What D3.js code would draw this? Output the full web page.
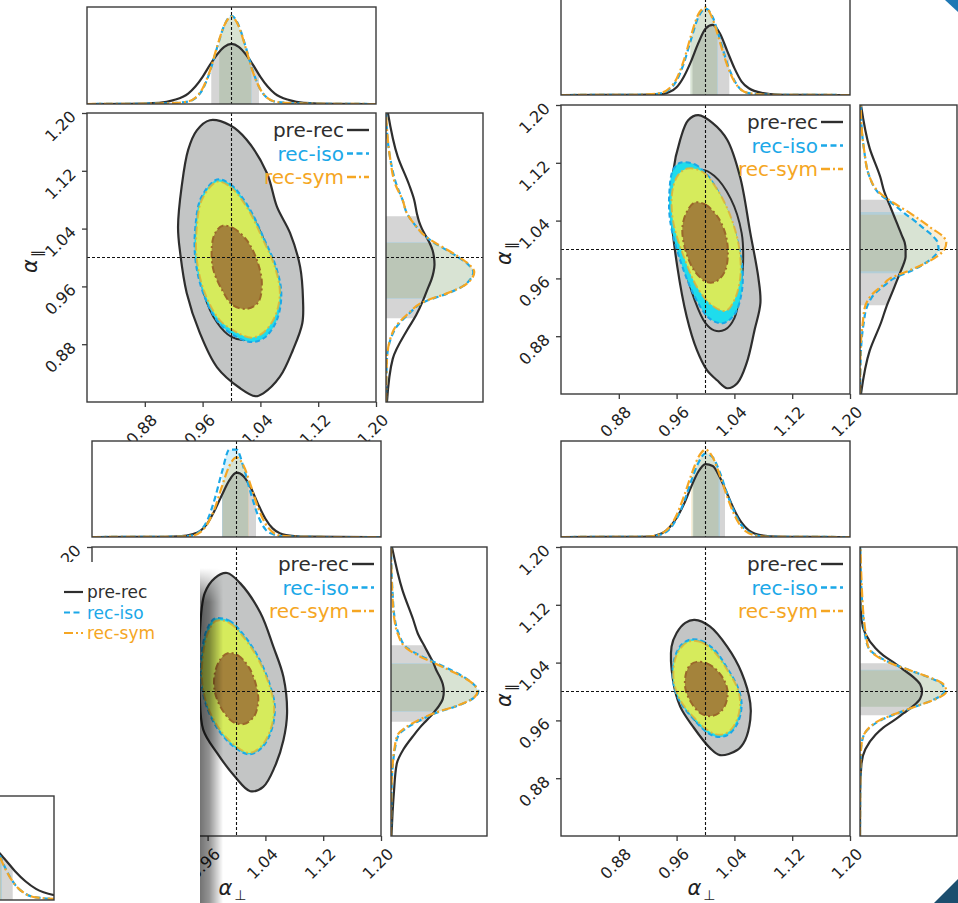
<!DOCTYPE html>
<html>
<head>
<meta charset="utf-8">
<script src="https://cdn.jsdelivr.net/npm/d3@7"></script>
<style>
  body { margin: 0; background: #fff; overflow: hidden; }
  svg { display: block; font-family: "DejaVu Sans", sans-serif; }
</style>
</head>
<body>
<svg id="chart" width="958" height="903"></svg>
<script>
// ---- shared axis values ----
const alphaGrid = [0.80, 0.86, 0.90, 0.92, 0.94, 0.95, 0.96, 0.97, 0.98, 0.99, 1.00, 1.01, 1.02, 1.03, 1.04, 1.05, 1.06, 1.08, 1.10, 1.14, 1.20];
const axisTicks = [0.88, 0.96, 1.04, 1.12, 1.20];
const alphaRange = [0.80, 1.20];
const fiducial = 1.00;
const seriesNames = ["pre-rec", "rec-iso", "rec-sym"];

// ---- panel 1 (top left) ----
const p1TopPre = [0, 0.002, 0.012, 0.04, 0.107, 0.18, 0.28, 0.40, 0.51, 0.59, 0.62, 0.59, 0.51, 0.40, 0.28, 0.18, 0.107, 0.04, 0.012, 0.002, 0];
const p1TopIso = [0, 0.002, 0.005, 0.01, 0.025, 0.06, 0.15, 0.33, 0.58, 0.81, 0.91, 0.81, 0.58, 0.33, 0.15, 0.06, 0.025, 0.01, 0.005, 0.002, 0];
const p1TopSym = [0, 0.002, 0.005, 0.01, 0.026, 0.065, 0.16, 0.34, 0.59, 0.81, 0.90, 0.80, 0.57, 0.32, 0.15, 0.06, 0.025, 0.01, 0.005, 0.002, 0];
const p1RightPre = [0.01, 0.07, 0.22, 0.31, 0.38, 0.41, 0.44, 0.47, 0.49, 0.50, 0.495, 0.48, 0.45, 0.41, 0.37, 0.34, 0.32, 0.29, 0.24, 0.12, 0.02];
const p1RightIso = [0, 0.01, 0.09, 0.22, 0.42, 0.63, 0.79, 0.87, 0.90, 0.85, 0.75, 0.63, 0.50, 0.40, 0.33, 0.27, 0.22, 0.17, 0.11, 0.04, 0];
const p1RightSym = [0, 0.01, 0.08, 0.21, 0.41, 0.62, 0.79, 0.88, 0.91, 0.86, 0.76, 0.64, 0.51, 0.40, 0.33, 0.27, 0.22, 0.17, 0.10, 0.04, 0];
const p1TopBands = [[0.972, 1.038], [0.983, 1.028], [0.983, 1.027]];
const p1RightBands = [[0.916, 1.057], [0.943, 1.021], [0.944, 1.020]];
const p1Pre95 = [[0.970,1.190],[0.998,1.183],[1.021,1.163],[1.049,1.117],[1.063,1.070],[1.081,1.034],[1.095,0.987],[1.099,0.941],[1.098,0.909],[1.085,0.872],[1.067,0.835],[1.044,0.812],[1.033,0.808],[1.012,0.819],[0.980,0.848],[0.956,0.896],[0.938,0.951],[0.929,1.006],[0.926,1.042],[0.931,1.098],[0.940,1.149],[0.952,1.176]];
const p1Pre68 = [[0.985,1.098],[1.005,1.090],[1.030,1.055],[1.050,1.010],[1.060,0.965],[1.055,0.925],[1.040,0.897],[1.020,0.886],[1.000,0.890],[0.980,0.910],[0.962,0.950],[0.955,1.000],[0.957,1.050],[0.968,1.083]];
const p1Iso95 = [[0.980,1.108],[0.999,1.101],[1.023,1.071],[1.046,1.024],[1.062,0.986],[1.069,0.950],[1.063,0.914],[1.047,0.890],[1.029,0.883],[1.007,0.890],[0.982,0.910],[0.961,0.950],[0.950,0.997],[0.950,1.043],[0.958,1.083]];
const p1Sym95 = [[0.980,1.105],[0.998,1.098],[1.021,1.070],[1.044,1.024],[1.060,0.987],[1.067,0.951],[1.060,0.918],[1.044,0.896],[1.028,0.889],[1.008,0.896],[0.984,0.913],[0.963,0.951],[0.952,0.997],[0.952,1.042],[0.959,1.080]];
const p1Rec68 = [[0.988,1.044],[1.002,1.041],[1.021,1.024],[1.035,0.997],[1.042,0.965],[1.037,0.938],[1.021,0.929],[1.002,0.934],[0.987,0.955],[0.974,0.987],[0.974,1.024],[0.980,1.038]];

// ---- panel 2 (top right) ----
const p2TopPre = [0, 0.001, 0.002, 0.005, 0.01, 0.03, 0.08, 0.19, 0.35, 0.54, 0.69, 0.73, 0.64, 0.46, 0.28, 0.14, 0.07, 0.02, 0.005, 0.001, 0];
const p2TopIso = [0, 0.001, 0.002, 0.005, 0.02, 0.06, 0.15, 0.33, 0.58, 0.81, 0.90, 0.81, 0.58, 0.33, 0.15, 0.05, 0.02, 0.005, 0.002, 0.001, 0];
const p2TopSym = [0, 0.001, 0.002, 0.006, 0.025, 0.07, 0.17, 0.36, 0.62, 0.84, 0.91, 0.79, 0.55, 0.31, 0.14, 0.05, 0.02, 0.005, 0.002, 0.001, 0];
const p2RightPre = [0.01, 0.10, 0.22, 0.27, 0.33, 0.36, 0.39, 0.42, 0.45, 0.47, 0.47, 0.46, 0.43, 0.40, 0.37, 0.34, 0.31, 0.25, 0.21, 0.10, 0.01];
const p2RightIso = [0, 0.01, 0.04, 0.07, 0.16, 0.25, 0.35, 0.52, 0.66, 0.76, 0.81, 0.80, 0.74, 0.65, 0.56, 0.46, 0.37, 0.18, 0.10, 0.04, 0.005];
const p2RightSym = [0, 0.005, 0.03, 0.05, 0.14, 0.23, 0.31, 0.49, 0.66, 0.79, 0.87, 0.89, 0.84, 0.73, 0.63, 0.52, 0.40, 0.19, 0.10, 0.04, 0.005];
const p2TopBands = [[0.982, 1.033], [0.979, 1.017], [0.979, 1.016]];
const p2RightBands = [[0.923, 1.069], [0.967, 1.052], [0.970, 1.048]];
const p2Pre95 = [[0.990,1.186],[1.010,1.175],[1.030,1.152],[1.048,1.100],[1.062,1.023],[1.073,0.962],[1.076,0.926],[1.068,0.889],[1.057,0.843],[1.044,0.815],[1.030,0.808],[1.016,0.819],[1.002,0.833],[0.988,0.861],[0.974,0.907],[0.961,0.976],[0.953,1.045],[0.955,1.106],[0.965,1.152],[0.976,1.179]];
const p2Pre68 = [[0.995,1.110],[1.012,1.102],[1.035,1.070],[1.050,1.023],[1.052,0.980],[1.048,0.944],[1.040,0.905],[1.027,0.889],[1.012,0.888],[1.000,0.898],[0.985,0.930],[0.972,0.976],[0.968,1.030],[0.975,1.080]];
const p2Iso95 = [[0.965,1.120],[0.985,1.118],[1.005,1.100],[1.025,1.065],[1.042,1.020],[1.051,0.976],[1.050,0.940],[1.040,0.910],[1.024,0.898],[1.005,0.905],[0.985,0.935],[0.965,0.985],[0.951,1.040],[0.950,1.080],[0.955,1.110]];
const p2Sym95 = [[0.975,1.112],[0.995,1.108],[1.015,1.085],[1.035,1.045],[1.047,1.000],[1.048,0.960],[1.040,0.930],[1.028,0.915],[1.010,0.922],[0.990,0.945],[0.970,0.990],[0.955,1.040],[0.954,1.080],[0.962,1.103]];
const p2Rec68 = [[0.985,1.065],[1.000,1.062],[1.017,1.045],[1.028,1.020],[1.031,0.995],[1.027,0.970],[1.015,0.956],[1.002,0.955],[0.985,0.970],[0.972,1.000],[0.968,1.030],[0.974,1.052]];

// ---- panel 3 (bottom left) ----
const p3TopPre = [0, 0.001, 0.002, 0.006, 0.03, 0.064, 0.145, 0.28, 0.44, 0.59, 0.67, 0.63, 0.51, 0.34, 0.19, 0.09, 0.04, 0.01, 0.003, 0.001, 0];
const p3TopIso = [0, 0.001, 0.002, 0.005, 0.018, 0.065, 0.18, 0.40, 0.68, 0.91, 0.91, 0.72, 0.45, 0.22, 0.08, 0.03, 0.01, 0.003, 0.001, 0, 0];
const p3TopSym = [0, 0.001, 0.002, 0.004, 0.014, 0.05, 0.14, 0.30, 0.53, 0.74, 0.83, 0.74, 0.53, 0.30, 0.14, 0.05, 0.015, 0.004, 0.001, 0, 0];
const p3RightPre = [0.005, 0.03, 0.06, 0.13, 0.24, 0.30, 0.37, 0.44, 0.50, 0.54, 0.55, 0.54, 0.51, 0.47, 0.44, 0.40, 0.36, 0.28, 0.23, 0.12, 0.01];
const p3RightIso = [0, 0.005, 0.02, 0.04, 0.08, 0.17, 0.30, 0.46, 0.69, 0.85, 0.91, 0.86, 0.76, 0.62, 0.46, 0.30, 0.17, 0.08, 0.04, 0.015, 0];
const p3RightSym = [0, 0.004, 0.018, 0.035, 0.07, 0.15, 0.28, 0.45, 0.68, 0.85, 0.90, 0.86, 0.75, 0.60, 0.44, 0.28, 0.16, 0.07, 0.035, 0.012, 0];
const p3TopBands = [[0.980, 1.027], [0.980, 1.016], [0.981, 1.017]];
const p3RightBands = [[0.958, 1.064], [0.972, 1.039], [0.973, 1.038]];
const p3Pre95 = [[0.987,1.164],[1.005,1.150],[1.033,1.109],[1.051,1.062],[1.065,1.020],[1.070,0.970],[1.065,0.933],[1.053,0.896],[1.037,0.868],[1.019,0.862],[0.998,0.882],[0.973,0.915],[0.954,0.947],[0.949,0.998],[0.949,1.075],[0.956,1.136],[0.970,1.157]];
const p3Pre68 = [[0.978,1.092],[0.994,1.088],[1.012,1.068],[1.030,1.040],[1.043,1.008],[1.047,0.980],[1.042,0.952],[1.030,0.930],[1.015,0.922],[0.998,0.930],[0.978,0.953],[0.962,0.987],[0.957,1.022],[0.960,1.060],[0.967,1.080]];
const p3Iso95 = [[0.970,1.101],[0.990,1.098],[1.011,1.077],[1.031,1.046],[1.046,1.010],[1.053,0.979],[1.049,0.948],[1.036,0.923],[1.018,0.913],[0.997,0.923],[0.974,0.948],[0.957,0.984],[0.951,1.020],[0.953,1.062],[0.960,1.088]];
const p3Sym95 = [[0.972,1.098],[0.990,1.095],[1.010,1.075],[1.030,1.045],[1.045,1.010],[1.052,0.980],[1.048,0.950],[1.035,0.925],[1.018,0.915],[0.998,0.925],[0.975,0.950],[0.958,0.985],[0.952,1.020],[0.955,1.060],[0.962,1.085]];
const p3Rec68 = [[0.988,1.053],[1.002,1.050],[1.018,1.032],[1.028,1.005],[1.030,0.985],[1.024,0.965],[1.010,0.955],[0.995,0.958],[0.980,0.975],[0.970,1.000],[0.970,1.025],[0.978,1.045]];

// ---- panel 4 (bottom right) ----
const p4TopPre = [0, 0.001, 0.002, 0.005, 0.04, 0.10, 0.20, 0.34, 0.52, 0.68, 0.76, 0.74, 0.62, 0.45, 0.28, 0.15, 0.07, 0.015, 0.004, 0.001, 0];
const p4TopIso = [0, 0.001, 0.002, 0.004, 0.03, 0.08, 0.19, 0.36, 0.58, 0.77, 0.87, 0.83, 0.67, 0.45, 0.26, 0.12, 0.05, 0.006, 0.002, 0.001, 0];
const p4TopSym = [0, 0.001, 0.002, 0.004, 0.04, 0.10, 0.23, 0.42, 0.64, 0.83, 0.91, 0.83, 0.64, 0.42, 0.23, 0.10, 0.04, 0.004, 0.002, 0.001, 0];
const p4RightPre = [0, 0.001, 0.015, 0.055, 0.16, 0.24, 0.35, 0.45, 0.55, 0.62, 0.64, 0.62, 0.55, 0.45, 0.35, 0.24, 0.16, 0.055, 0.015, 0.002, 0];
const p4RightIso = [0, 0.002, 0.004, 0.01, 0.04, 0.10, 0.21, 0.39, 0.59, 0.78, 0.87, 0.85, 0.70, 0.50, 0.31, 0.17, 0.09, 0.05, 0.035, 0.015, 0.003];
const p4RightSym = [0, 0.002, 0.004, 0.01, 0.04, 0.095, 0.20, 0.38, 0.59, 0.79, 0.89, 0.86, 0.71, 0.50, 0.30, 0.16, 0.09, 0.06, 0.04, 0.02, 0.005];
const p4TopBands = [[0.983, 1.027], [0.982, 1.020], [0.980, 1.018]];
const p4RightBands = [[0.967, 1.039], [0.979, 1.030], [0.979, 1.029]];
const p4Pre95 = [[0.985,1.099],[1.006,1.090],[1.030,1.062],[1.050,1.026],[1.062,0.984],[1.062,0.961],[1.055,0.933],[1.044,0.919],[1.020,0.912],[1.006,0.922],[0.983,0.951],[0.965,0.979],[0.955,1.016],[0.953,1.062],[0.960,1.081],[0.972,1.095]];
const p4Pre68 = [[0.985,1.062],[1.000,1.060],[1.018,1.045],[1.033,1.022],[1.042,1.000],[1.043,0.980],[1.037,0.962],[1.024,0.948],[1.010,0.945],[0.993,0.953],[0.975,0.975],[0.962,1.002],[0.961,1.030],[0.970,1.052]];
const p4Iso95 = [[0.979,1.072],[0.995,1.070],[1.013,1.057],[1.031,1.031],[1.045,1.005],[1.050,0.984],[1.046,0.960],[1.034,0.942],[1.020,0.937],[1.004,0.942],[0.984,0.961],[0.964,0.987],[0.955,1.015],[0.957,1.046],[0.967,1.065]];
const p4Sym95 = [[0.980,1.070],[0.995,1.068],[1.012,1.055],[1.030,1.030],[1.044,1.005],[1.048,0.985],[1.044,0.962],[1.033,0.945],[1.020,0.940],[1.005,0.945],[0.985,0.963],[0.965,0.988],[0.956,1.015],[0.958,1.045],[0.968,1.063]];
const p4Rec68 = [[0.988,1.041],[1.002,1.039],[1.018,1.027],[1.029,1.008],[1.030,0.990],[1.022,0.973],[1.008,0.966],[0.993,0.970],[0.980,0.985],[0.972,1.005],[0.973,1.025],[0.979,1.037]];

// table for the loop
const panelData = [
  { top: [p1TopPre, p1TopIso, p1TopSym], right: [p1RightPre, p1RightIso, p1RightSym], topBands: p1TopBands, rightBands: p1RightBands, pre95: p1Pre95, pre68: p1Pre68, iso95: p1Iso95, sym95: p1Sym95, rec68: p1Rec68 },
  { top: [p2TopPre, p2TopIso, p2TopSym], right: [p2RightPre, p2RightIso, p2RightSym], topBands: p2TopBands, rightBands: p2RightBands, pre95: p2Pre95, pre68: p2Pre68, iso95: p2Iso95, sym95: p2Sym95, rec68: p2Rec68 },
  { top: [p3TopPre, p3TopIso, p3TopSym], right: [p3RightPre, p3RightIso, p3RightSym], topBands: p3TopBands, rightBands: p3RightBands, pre95: p3Pre95, pre68: p3Pre68, iso95: p3Iso95, sym95: p3Sym95, rec68: p3Rec68 },
  { top: [p4TopPre, p4TopIso, p4TopSym], right: [p4RightPre, p4RightIso, p4RightSym], topBands: p4TopBands, rightBands: p4RightBands, pre95: p4Pre95, pre68: p4Pre68, iso95: p4Iso95, sym95: p4Sym95, rec68: p4Rec68 }
];

// where each corner plot sits (they overlap like pasted screenshots)
const layout = [
  { x0: 87,  topY: 7,   topH: 97, mainY: 113, rightX: 386, rightW: 97, bg: null },
  { x0: 561, topY: -1,  topH: 96, mainY: 105, rightX: 860, rightW: 97, bg: [486, -5, 480, 441] },
  { x0: 92,  topY: 441, topH: 96, mainY: 547, rightX: 391, rightW: 96, bg: [-5, 441, 494, 470] },
  { x0: 561, topY: 441, topH: 96, mainY: 547, rightX: 860, rightW: 97, bg: [489, 436, 475, 470] }
];

const S = 289;
const lineCol = ["#2e2e2e", "#1ba8e8", "#f5a623"];
const lineDash = [null, "6,3.5", "9,3,2,3"];
const bandFill = ["rgba(128,128,128,0.33)", "rgba(26,176,232,0.18)", "rgba(226,169,35,0.18)"];
const spine = "#3a3a3a";

const svg = d3.select("#chart");
const defs = svg.append("defs");
let clipN = 0;
function clip(x, y, w, h) {
  const id = "clip" + (clipN++);
  defs.append("clipPath").attr("id", id).append("rect")
    .attr("x", x).attr("y", y).attr("width", Math.max(0, w)).attr("height", h);
  return "url(#" + id + ")";
}

function crossLine(g, x1, y1, x2, y2) {
  g.append("line").attr("x1", x1).attr("y1", y1).attr("x2", x2).attr("y2", y2)
    .attr("stroke", "#111").attr("stroke-width", 1.1).attr("stroke-dasharray", "3,2");
}

function drawPanel(cfg, d) {
  const g = svg.append("g");
  if (cfg.bg) {
    g.append("rect").attr("x", cfg.bg[0]).attr("y", cfg.bg[1])
      .attr("width", cfg.bg[2]).attr("height", cfg.bg[3]).attr("fill", "#fff");
  }
  const x = d3.scaleLinear().domain(alphaRange).range([cfg.x0, cfg.x0 + S]);
  const y = d3.scaleLinear().domain(alphaRange).range([cfg.mainY + S, cfg.mainY]);

  // top marginal
  const hy = d3.scaleLinear().domain([0, 1]).range([cfg.topY + cfg.topH, cfg.topY]);
  const top = g.append("g").attr("clip-path", clip(cfg.x0, cfg.topY, S, cfg.topH));
  d.top.forEach((vals, k) => {
    const b = d.topBands[k];
    top.append("g").attr("clip-path", clip(x(b[0]), cfg.topY, x(b[1]) - x(b[0]), cfg.topH))
      .append("path").datum(vals).attr("fill", bandFill[k])
      .attr("d", d3.area().x((v, i) => x(alphaGrid[i])).y0(cfg.topY + cfg.topH).y1(v => hy(v)).curve(d3.curveMonotoneX));
  });
  d.top.forEach((vals, k) => {
    top.append("path").datum(vals).attr("fill", "none")
      .attr("stroke", lineCol[k]).attr("stroke-width", 2.2).attr("stroke-dasharray", lineDash[k])
      .attr("d", d3.line().x((v, i) => x(alphaGrid[i])).y(v => hy(v)).curve(d3.curveMonotoneX));
  });
  crossLine(top, x(fiducial), cfg.topY, x(fiducial), cfg.topY + cfg.topH);
  g.append("rect").attr("x", cfg.x0).attr("y", cfg.topY).attr("width", S).attr("height", cfg.topH)
    .attr("fill", "none").attr("stroke", spine).attr("stroke-width", 1.4);

  // right marginal
  const wx = d3.scaleLinear().domain([0, 1]).range([cfg.rightX, cfg.rightX + cfg.rightW]);
  const right = g.append("g").attr("clip-path", clip(cfg.rightX, cfg.mainY, cfg.rightW, S));
  d.right.forEach((vals, k) => {
    const b = d.rightBands[k];
    right.append("g").attr("clip-path", clip(cfg.rightX, y(b[1]), cfg.rightW, y(b[0]) - y(b[1])))
      .append("path").datum(vals).attr("fill", bandFill[k])
      .attr("d", d3.area().y((v, i) => y(alphaGrid[i])).x0(cfg.rightX).x1(v => wx(v)).curve(d3.curveMonotoneY));
  });
  d.right.forEach((vals, k) => {
    right.append("path").datum(vals).attr("fill", "none")
      .attr("stroke", lineCol[k]).attr("stroke-width", 2.2).attr("stroke-dasharray", lineDash[k])
      .attr("d", d3.line().y((v, i) => y(alphaGrid[i])).x(v => wx(v)).curve(d3.curveMonotoneY));
  });
  crossLine(right, cfg.rightX, y(fiducial), cfg.rightX + cfg.rightW, y(fiducial));
  g.append("rect").attr("x", cfg.rightX).attr("y", cfg.mainY).attr("width", cfg.rightW).attr("height", S)
    .attr("fill", "none").attr("stroke", spine).attr("stroke-width", 1.4);

  // main 2d contours
  const main = g.append("g").attr("clip-path", clip(cfg.x0, cfg.mainY, S, S));
  const cont = d3.line().x(p => x(p[0])).y(p => y(p[1])).curve(d3.curveCatmullRomClosed.alpha(0.5));
  main.append("path").datum(d.pre95).attr("d", cont).attr("fill", "#c3c5c5").attr("stroke", "#2e2e2e").attr("stroke-width", 2.2);
  main.append("path").datum(d.pre68).attr("d", cont).attr("fill", "#c1c3c3").attr("stroke", "#2e2e2e").attr("stroke-width", 2);
  main.append("path").datum(d.iso95).attr("d", cont).attr("fill", "#1fdcec").attr("stroke", "#1ba8e8").attr("stroke-width", 2).attr("stroke-dasharray", "5,3");
  main.append("path").datum(d.sym95).attr("d", cont).attr("fill", "#d6eb5c").attr("stroke", "#e0b236").attr("stroke-width", 2).attr("stroke-opacity", 0.85).attr("stroke-dasharray", "8,3,2,3");
  main.append("path").datum(d.rec68).attr("d", cont).attr("fill", "#a4833b").attr("stroke", "#9a672b").attr("stroke-width", 2).attr("stroke-dasharray", "7,3,2,3");
  crossLine(main, x(fiducial), cfg.mainY, x(fiducial), cfg.mainY + S);
  crossLine(main, cfg.x0, y(fiducial), cfg.x0 + S, y(fiducial));

  // legend, top right of the main box
  const lg = g.append("g");
  seriesNames.forEach((name, k) => {
    const cy = cfg.mainY + 17 + k * 23.5;
    lg.append("text").attr("x", cfg.x0 + S - 32).attr("y", cy + 7).attr("text-anchor", "end")
      .attr("font-size", 20).attr("fill", lineCol[k]).text(name);
    lg.append("line").attr("x1", cfg.x0 + S - 29).attr("x2", cfg.x0 + S - 7).attr("y1", cy).attr("y2", cy)
      .attr("stroke", lineCol[k]).attr("stroke-width", 2.4).attr("stroke-dasharray", lineDash[k]);
  });

  g.append("rect").attr("x", cfg.x0).attr("y", cfg.mainY).attr("width", S).attr("height", S)
    .attr("fill", "none").attr("stroke", spine).attr("stroke-width", 1.4);

  // axes
  const xa = g.append("g").attr("transform", `translate(0,${cfg.mainY + S})`)
    .call(d3.axisBottom(x).tickValues(axisTicks).tickSize(5).tickFormat(d3.format(".2f")));
  const ya = g.append("g").attr("transform", `translate(${cfg.x0},0)`)
    .call(d3.axisLeft(y).tickValues(axisTicks).tickSize(5).tickFormat(d3.format(".2f")));
  [xa, ya].forEach(a => {
    a.select(".domain").remove();
    a.selectAll(".tick line").attr("stroke", spine).attr("stroke-width", 1.3);
    a.selectAll("text").attr("font-size", 16).attr("fill", "#222").attr("font-family", "DejaVu Sans")
      .attr("dy", null).attr("text-anchor", "end");
  });
  xa.selectAll("text").attr("x", 13).attr("y", 19).attr("transform", "rotate(-45,13,19)");
  ya.selectAll("text").attr("x", -10).attr("y", 4).attr("transform", "rotate(-45,-10,4)");

  // axis labels
  const xl = g.append("text").attr("x", cfg.x0 + S / 2 - 4).attr("y", cfg.mainY + S + 59)
    .attr("text-anchor", "middle").attr("font-size", 21).attr("fill", "#222");
  xl.append("tspan").attr("font-style", "italic").text("α");
  xl.append("tspan").attr("font-size", 14).attr("dy", 5).attr("dx", 2).text("⊥");
  const yl = g.append("text").attr("transform", `translate(${cfg.x0 - 50},${cfg.mainY + S / 2 + 4}) rotate(-90)`)
    .attr("text-anchor", "middle").attr("font-size", 21).attr("fill", "#222");
  yl.append("tspan").attr("font-style", "italic").text("α");
  yl.append("tspan").attr("font-size", 14).attr("dy", 5).attr("dx", 2).text("∥");
}

layout.forEach((cfg, i) => drawPanel(cfg, panelData[i]));

// ---- pasted sheet over the lower left plot ----
const grad = defs.append("linearGradient").attr("id", "shadowGrad").attr("x1", 0).attr("x2", 1).attr("y1", 0).attr("y2", 0);
grad.append("stop").attr("offset", 0).attr("stop-color", "#000").attr("stop-opacity", 0.55);
grad.append("stop").attr("offset", 0.4).attr("stop-color", "#000").attr("stop-opacity", 0.42);
grad.append("stop").attr("offset", 1).attr("stop-color", "#000").attr("stop-opacity", 0);
const fade = defs.append("linearGradient").attr("id", "fadeGrad").attr("x1", 0).attr("x2", 0).attr("y1", 0).attr("y2", 1);
fade.append("stop").attr("offset", 0).attr("stop-color", "#fff").attr("stop-opacity", 0);
fade.append("stop").attr("offset", 0.1).attr("stop-color", "#fff").attr("stop-opacity", 1);
fade.append("stop").attr("offset", 1).attr("stop-color", "#fff").attr("stop-opacity", 1);
defs.append("mask").attr("id", "fadeMask").attr("maskUnits", "userSpaceOnUse")
  .append("rect").attr("x", 195).attr("y", 568).attr("width", 40).attr("height", 340).attr("fill", "url(#fadeGrad)");

const sheet = svg.append("g");
sheet.append("rect").attr("x", 200).attr("y", 568).attr("width", 23).attr("height", 340)
  .attr("fill", "url(#shadowGrad)").attr("mask", "url(#fadeMask)");
sheet.append("rect").attr("x", -5).attr("y", 562).attr("width", 205).attr("height", 345).attr("fill", "#fff");

seriesNames.forEach((name, k) => {
  const cy = 592 + k * 20.5;
  sheet.append("line").attr("x1", 64).attr("x2", 83).attr("y1", cy).attr("y2", cy)
    .attr("stroke", lineCol[k]).attr("stroke-width", 2.2).attr("stroke-dasharray", lineDash[k]);
  sheet.append("text").attr("x", 87).attr("y", cy + 6).attr("font-size", 17).attr("fill", lineCol[k]).text(name);
});

// small cut-off marginal in the corner (same pre/rec curves as panel 1, zoomed)
const tailX = d3.scaleLinear().domain([1.026, 1.077]).range([0, 54]);
const tailY = d3.scaleLinear().domain([0, 1]).range([900, 796]);
const tail = sheet.append("g").attr("clip-path", clip(0, 796, 54, 104));
panelData[0].top.forEach((vals, k) => {
  const b = panelData[0].topBands[k];
  tail.append("g").attr("clip-path", clip(tailX(b[0]), 796, tailX(b[1]) - tailX(b[0]), 104))
    .append("path").datum(vals).attr("fill", bandFill[k])
    .attr("d", d3.area().x((v, i) => tailX(alphaGrid[i])).y0(900).y1(v => tailY(v)).curve(d3.curveMonotoneX));
});
panelData[0].top.forEach((vals, k) => {
  tail.append("path").datum(vals).attr("fill", "none")
    .attr("stroke", lineCol[k]).attr("stroke-width", 2.2).attr("stroke-dasharray", lineDash[k])
    .attr("d", d3.line().x((v, i) => tailX(alphaGrid[i])).y(v => tailY(v)).curve(d3.curveMonotoneX));
});
sheet.append("rect").attr("x", -2).attr("y", 796).attr("width", 56).attr("height", 104)
  .attr("fill", "none").attr("stroke", spine).attr("stroke-width", 1.4);

// window corners
svg.append("path").attr("d", "M945,0 L958,0 L958,12 Z").attr("fill", "#1f78b4");
svg.append("path").attr("d", "M958,879 L958,903 L934,903 Z").attr("fill", "#1c4e6e");
</script>
</body>
</html>
